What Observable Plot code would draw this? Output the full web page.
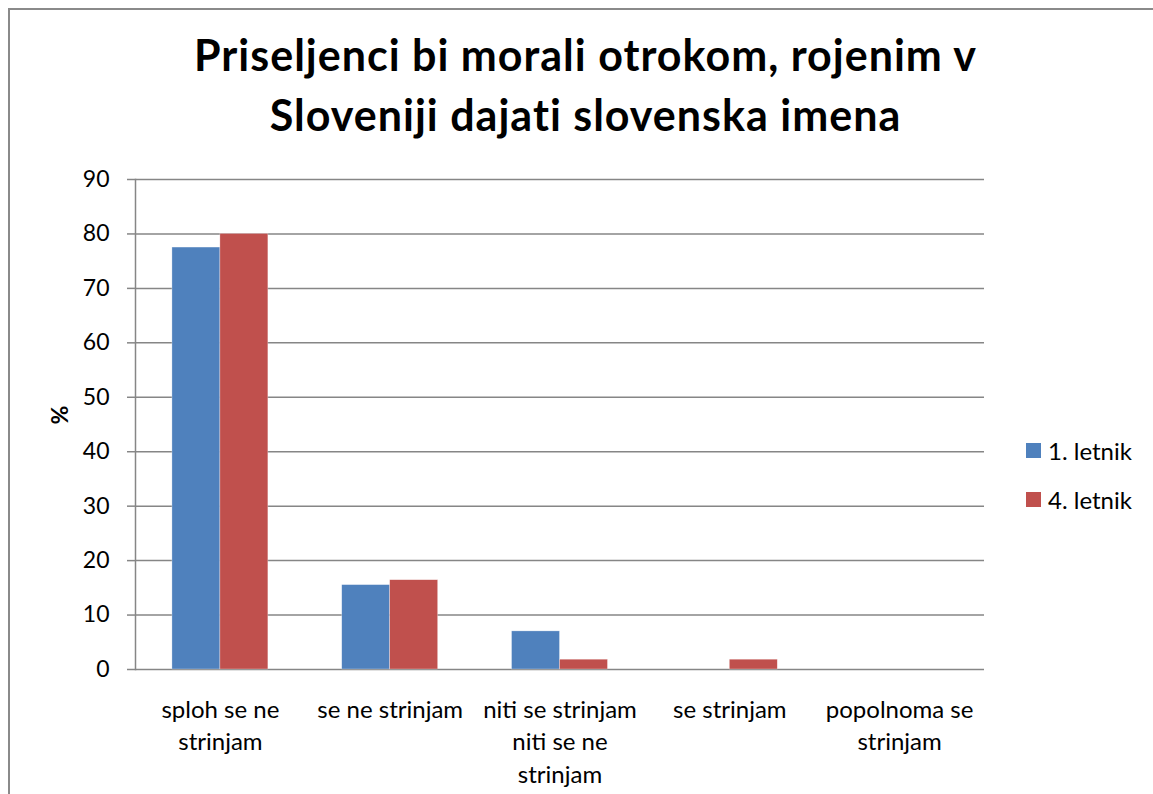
<!DOCTYPE html>
<html>
<head>
<meta charset="utf-8">
<script src="https://cdn.jsdelivr.net/npm/d3@7"></script>
<script src="https://cdn.jsdelivr.net/npm/@observablehq/plot@0.6"></script>
<style>
  html, body { margin: 0; padding: 0; background: #fff; overflow: hidden; }
  #wrap { position: relative; width: 1153px; height: 794px; overflow: hidden; font-family: Lato, "Open Sans", sans-serif; }
  #border { position: absolute; left: 8px; top: 8px; width: 1300px; height: 1000px; border: 2px solid #8a8a8a; box-sizing: border-box; }
  #title { position: relative; height: 150px; }
  #title div { position: absolute; left: 0; width: 1171px; top: 25px; text-align: center; font-weight: bold; font-size: 43px; letter-spacing: 1px; line-height: 60px; color: #000; }
  #chart { position: relative; height: 644px; }
  #chart svg { position: absolute; left: 0; top: 0; overflow: visible; }
  #legend { position: absolute; left: 1026px; top: 434px; font-size: 24px; color: #000; }
  #legend .item { display: flex; align-items: center; height: 32px; margin-bottom: 17px; }
  #legend .sw { width: 15px; height: 15px; margin-right: 7px; }
</style>
</head>
<body>
<div id="wrap">
  <div id="border"></div>
  <div id="title"><div>Priseljenci bi morali otrokom, rojenim v<br>Sloveniji dajati slovenska imena</div></div>
  <div id="chart"></div>
  <div id="legend"></div>
</div>
<script>
const categories = ["sploh se ne strinjam", "se ne strinjam", "niti se strinjam niti se ne strinjam", "se strinjam", "popolnoma se strinjam"];
const categoryLabels = ["sploh se ne\nstrinjam", "se ne strinjam", "niti se strinjam\nniti se ne\nstrinjam", "se strinjam", "popolnoma se\nstrinjam"];
const series = ["1. letnik", "4. letnik"];
const values1 = [77.5, 15.5, 7.0, 0, 0];
const values4 = [80.0, 16.4, 1.8, 1.8, 0];
const yTicks = [0, 10, 20, 30, 40, 50, 60, 70, 80, 90];
const colors = ["#4F81BD", "#C0504D"];

const data = [];
categories.forEach((c, i) => {
  data.push({category: c, series: series[0], value: values1[i]});
  data.push({category: c, series: series[1], value: values4[i]});
});

const frame = {
  width: 1153,
  height: 644,
  marginTop: 29,
  marginBottom: 125,
  marginLeft: 135,
  marginRight: 169
};
const font = {fontFamily: "Lato, 'Open Sans', sans-serif", fontSize: "22px", color: "#000", background: "transparent"};
const gray = "#868686";

// Layer 1: grid, axes, labels
const base = Plot.plot({
  ...frame,
  style: font,
  x: {type: "band", domain: categories, padding: 0, round: false, axis: null},
  y: {domain: [0, 90], axis: null},
  marks: [
    Plot.ruleY(yTicks, {y: d => d, stroke: gray, strokeWidth: 1.5}),
    Plot.frame({anchor: "left", stroke: gray, strokeWidth: 1.5}),
    Plot.axisY({ticks: yTicks, tickSize: 8, tickPadding: 18, label: null, stroke: gray, strokeWidth: 1.5, fill: "#000", fontSize: 23}),
    Plot.axisX({tickSize: 0, tickPadding: 25, lineHeight: 1.354, fontSize: 24, fill: "#000", tickFormat: d => categoryLabels[categories.indexOf(d)], label: null}),
    Plot.text(["%"], {text: d => d, frameAnchor: "left", dx: -75, rotate: -90, fontWeight: "bold", fontSize: 23})
  ]
});

// Layer 2: grouped bars via fx facets
const bars = Plot.plot({
  ...frame,
  style: font,
  fx: {domain: categories, paddingInner: 0.435, paddingOuter: 0.2175, round: false, axis: null},
  x: {domain: series, padding: 0, round: false, axis: null},
  y: {domain: [0, 90], axis: null},
  color: {domain: series, range: colors},
  marks: [
    Plot.barY(data, {fx: "category", x: "series", y: "value", fill: "series", stroke: "#fff", strokeWidth: 0.6, strokeOpacity: 0.5})
  ]
});

const chart = document.getElementById("chart");
chart.appendChild(base);
chart.appendChild(bars);

const legend = document.getElementById("legend");
series.forEach((s, i) => {
  const item = document.createElement("div");
  item.className = "item";
  const sw = document.createElement("div");
  sw.className = "sw";
  sw.style.background = colors[i];
  const t = document.createElement("span");
  t.textContent = s;
  item.appendChild(sw);
  item.appendChild(t);
  legend.appendChild(item);
});
</script>
</body>
</html>
